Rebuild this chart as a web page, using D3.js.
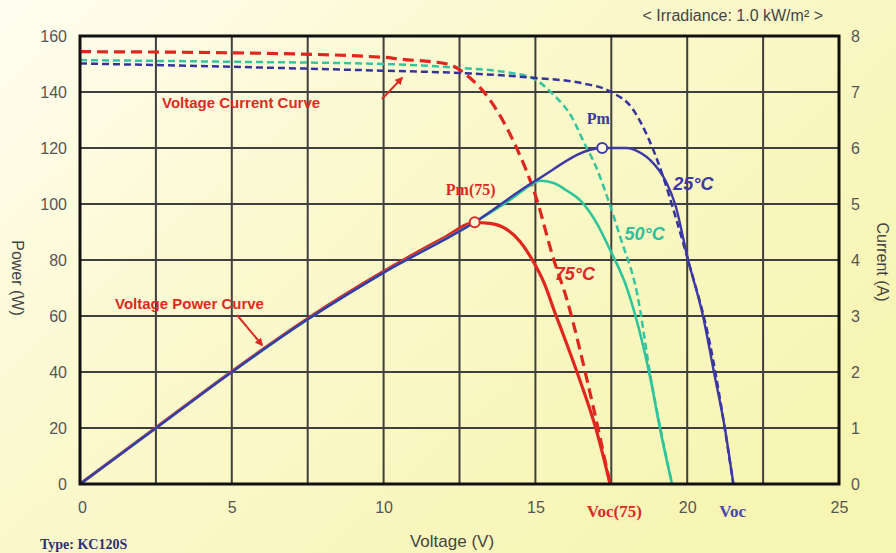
<!DOCTYPE html>
<html>
<head>
<meta charset="utf-8">
<script src="https://cdn.jsdelivr.net/npm/d3@7"></script>
<style>
  html, body { margin: 0; padding: 0; background: #fdfbe6; }
  svg { display: block; }
  .tick text { font-family: "Liberation Sans", Arial, sans-serif; font-size: 16px; fill: #555; }
</style>
</head>
<body>
<svg id="chart" width="896" height="553"></svg>
<script>
// ---- data ----
var voltageTicks = [0, 5, 10, 15, 20, 25];
var voltageGrid = [2.5, 5, 7.5, 10, 12.5, 15, 17.5, 20, 22.5];
var powerTicks = [0, 20, 40, 60, 80, 100, 120, 140, 160];
var currentTicks = [0, 1, 2, 3, 4, 5, 6, 7, 8];

// [voltage, power W]
var power25 = [[0,0],[2.5,20],[5,40],[7.5,58.8],[10,75.5],[13,93.5],[15,108.3],[17.2,120],[18,120],
  [18.5,118],[18.8,115.5],[19.3,108],[19.6,100],[20.03,80],[20.52,60],[20.88,40],[21.24,20],[21.52,0]];
var power50 = [[0,0],[2.5,20],[5,40],[7.5,58.8],[10,75.5],[13,93.5],[14.3,102.5],[14.8,106.5],[15.15,108.3],
  [15.6,107.5],[16.0,105],[16.5,101],[17.0,93.5],[17.46,83.6],[18.0,70.4],[18.8,37],[19.1,20],[19.5,0]];
var power75 = [[0,0],[2.5,20.1],[5,40.2],[7.5,59.1],[10,75.9],[12,88],[13,93.4],[13.5,93.1],[14.0,91.3],
  [14.5,86.5],[14.9,80],[15.3,71.5],[15.65,61],[16.0,51],[16.5,36],[17.0,19.5],[17.46,0]];

// [voltage, current A]
var current25 = [[0,7.51],[5,7.45],[10,7.38],[12.5,7.34],[15,7.25],[16.5,7.16],[17.5,7.0],[18.2,6.7],
  [18.7,6.2],[19.2,5.5],[19.6,4.8],[20.0,4.05],[20.75,2.5],[21.52,0]];
var current50 = [[0,7.57],[5,7.54],[10,7.5],[12.5,7.43],[14.2,7.34],[14.9,7.25],[15.6,6.95],[16.2,6.55],
  [16.6,6.1],[17.0,5.66],[17.4,5.07],[17.8,4.4],[18.35,3.4],[18.8,1.9],[19.5,0]];
var current75 = [[0,7.72],[5,7.7],[10,7.62],[10.5,7.59],[12.1,7.5],[12.85,7.25],[13.5,6.86],[14.26,6.14],
  [15.05,5.07],[15.58,4.05],[16.04,3.29],[16.7,1.86],[17.46,0]];

var maxPoints = [
  {label: "Pm", v: 17.2, p: 120, color: "#3c38a6"},
  {label: "Pm(75)", v: 13.0, p: 93.5, color: "#dc2a24"}
];
var tempLabels = [
  {text: "25\u00b0C", v: 20.2, p: 105, color: "#3c38a6"},
  {text: "50\u00b0C", v: 18.6, p: 87, color: "#2fbf9a"},
  {text: "75\u00b0C", v: 16.3, p: 73, color: "#dc2a24"}
];

// ---- chart ----
var svg = d3.select("#chart");
var margin = {top: 36, right: 57, bottom: 69, left: 80};
var W = 896, H = 553;

var x = d3.scaleLinear().domain([0, 25]).range([margin.left, W - margin.right]);
var yP = d3.scaleLinear().domain([0, 160]).range([H - margin.bottom, margin.top]);
var yI = d3.scaleLinear().domain([0, 8]).range([H - margin.bottom, margin.top]);

var defs = svg.append("defs");
var bg = defs.append("linearGradient").attr("id", "bg")
  .attr("x1", 0).attr("y1", 0).attr("x2", 1).attr("y2", 0.7);
bg.append("stop").attr("offset", "0%").attr("stop-color", "#fffdf0");
bg.append("stop").attr("offset", "40%").attr("stop-color", "#fbf9cf");
bg.append("stop").attr("offset", "100%").attr("stop-color", "#f7f5b2");

defs.append("marker").attr("id", "arrow")
  .attr("viewBox", "0 0 10 10").attr("refX", 8).attr("refY", 5)
  .attr("markerWidth", 4).attr("markerHeight", 4).attr("orient", "auto")
  .append("path").attr("d", "M0,0L10,5L0,10z").attr("fill", "#dc2a24");

svg.append("rect").attr("width", W).attr("height", H).attr("fill", "url(#bg)");

// grid
var grid = svg.append("g").attr("class", "grid");
grid.selectAll("line.h").data(powerTicks.slice(1, -1)).enter().append("line")
  .attr("x1", x(0)).attr("x2", x(25))
  .attr("y1", function (d) { return yP(d); }).attr("y2", function (d) { return yP(d); })
  .attr("stroke", "#3f3f3f").attr("stroke-width", 2);
grid.selectAll("line.v").data(voltageGrid).enter().append("line")
  .attr("y1", yP(0)).attr("y2", yP(160))
  .attr("x1", function (d) { return x(d); }).attr("x2", function (d) { return x(d); })
  .attr("stroke", "#3f3f3f").attr("stroke-width", 2);

// axes (labels only)
var axL = svg.append("g").attr("transform", "translate(" + margin.left + ",0)")
  .call(d3.axisLeft(yP).tickValues(powerTicks).tickSize(0).tickPadding(13));
var axR = svg.append("g").attr("transform", "translate(" + (W - margin.right) + ",0)")
  .call(d3.axisRight(yI).tickValues(currentTicks).tickSize(0).tickPadding(12));
var axB = svg.append("g").attr("transform", "translate(0," + (H - margin.bottom) + ")")
  .call(d3.axisBottom(x).tickValues(voltageTicks).tickSize(0).tickPadding(18));
[axL, axR, axB].forEach(function (a) { a.select(".domain").remove(); });
axB.selectAll(".tick text").attr("dx", function (d) { return d === 0 ? 2 : 0; });

// curves
var lineP = d3.line().x(function (d) { return x(d[0]); }).y(function (d) { return yP(d[1]); })
  .curve(d3.curveMonotoneX);
var lineI = d3.line().x(function (d) { return x(d[0]); }).y(function (d) { return yI(d[1]); })
  .curve(d3.curveMonotoneX);

var curves = svg.append("g").attr("fill", "none").attr("stroke-linecap", "butt");
curves.append("path").datum(current50).attr("d", lineI)
  .attr("stroke", "#35c4a0").attr("stroke-width", 2.5).attr("stroke-dasharray", "7,4");
curves.append("path").datum(current25).attr("d", lineI)
  .attr("stroke", "#35329c").attr("stroke-width", 2.5).attr("stroke-dasharray", "7,4");
curves.append("path").datum(current75).attr("d", lineI)
  .attr("stroke", "#e0261f").attr("stroke-width", 3.2).attr("stroke-dasharray", "11,6");

curves.append("path").datum(power75).attr("d", lineP)
  .attr("stroke", "#e0261f").attr("stroke-width", 3.2);
curves.append("path").datum(power50).attr("d", lineP)
  .attr("stroke", "#2fc49c").attr("stroke-width", 2.6);
curves.append("path").datum(power25).attr("d", lineP)
  .attr("stroke", "#3c38a6").attr("stroke-width", 2.4);

// frame
svg.append("rect").attr("x", x(0)).attr("y", yP(160))
  .attr("width", x(25) - x(0)).attr("height", yP(0) - yP(160))
  .attr("fill", "none").attr("stroke", "#111").attr("stroke-width", 3);

// max power points
svg.selectAll("circle.pm").data(maxPoints).enter().append("circle")
  .attr("cx", function (d) { return x(d.v); }).attr("cy", function (d) { return yP(d.p); })
  .attr("r", 5).attr("fill", "#fbf8d8").attr("stroke", function (d) { return d.color; })
  .attr("stroke-width", 2);
svg.selectAll("text.pm").data(maxPoints).enter().append("text")
  .attr("x", function (d) { return x(d.v) - 4; })
  .attr("y", function (d) { return yP(d.p) - (d.label === "Pm" ? 24 : 27); })
  .attr("text-anchor", "middle")
  .attr("font-family", "Liberation Serif, serif").attr("font-weight", "bold").attr("font-size", 16)
  .attr("fill", function (d) { return d.color; })
  .text(function (d) { return d.label; });

// temperature labels
svg.selectAll("text.temp").data(tempLabels).enter().append("text")
  .attr("x", function (d) { return x(d.v); }).attr("y", function (d) { return yP(d.p); })
  .attr("text-anchor", "middle")
  .attr("font-family", "Liberation Sans, Arial, sans-serif").attr("font-weight", "bold")
  .attr("font-style", "italic").attr("font-size", 18)
  .attr("fill", function (d) { return d.color; })
  .text(function (d) { return d.text; });

// curve annotations
var ann = svg.append("g").attr("font-family", "Liberation Sans, Arial, sans-serif")
  .attr("font-weight", "bold").attr("font-size", 15).attr("fill", "#dc2a24");
ann.append("text").attr("x", 162).attr("y", 108).text("Voltage Current Curve");
ann.append("text").attr("x", 115).attr("y", 309).text("Voltage Power Curve");
ann.append("line").attr("x1", 382).attr("y1", 99).attr("x2", 402).attr("y2", 78)
  .attr("stroke", "#dc2a24").attr("stroke-width", 2).attr("marker-end", "url(#arrow)");
ann.append("line").attr("x1", 237).attr("y1", 315).attr("x2", 262).attr("y2", 345)
  .attr("stroke", "#dc2a24").attr("stroke-width", 2).attr("marker-end", "url(#arrow)");

// Voc labels
var serif = "Liberation Serif, serif";
svg.append("text").attr("x", x(17.6)).attr("y", 517).attr("text-anchor", "middle")
  .attr("font-family", serif).attr("font-weight", "bold").attr("font-size", 17)
  .attr("fill", "#dc2a24").text("Voc(75)");
svg.append("text").attr("x", x(21.5)).attr("y", 517).attr("text-anchor", "middle")
  .attr("font-family", serif).attr("font-weight", "bold").attr("font-size", 17)
  .attr("fill", "#4a46b0").text("Voc");

// titles
var sans = "Liberation Sans, Arial, sans-serif";
svg.append("text").attr("x", 452).attr("y", 547).attr("text-anchor", "middle")
  .attr("font-family", sans).attr("font-size", 17).attr("fill", "#444").text("Voltage (V)");
svg.append("text").attr("transform", "translate(12,278) rotate(90)").attr("text-anchor", "middle")
  .attr("font-family", sans).attr("font-size", 16).attr("fill", "#444").text("Power (W)");
svg.append("text").attr("transform", "translate(877,262) rotate(90)").attr("text-anchor", "middle")
  .attr("font-family", sans).attr("font-size", 16).attr("fill", "#444").text("Current (A)");
svg.append("text").attr("x", 823).attr("y", 21).attr("text-anchor", "end")
  .attr("font-family", sans).attr("font-size", 16).attr("fill", "#444")
  .text("< Irradiance: 1.0 kW/m\u00b2 >");
svg.append("text").attr("x", 40).attr("y", 549)
  .attr("font-family", serif).attr("font-weight", "bold").attr("font-size", 14)
  .attr("fill", "#2e2e7a").text("Type: KC120S");
</script>
</body>
</html>
